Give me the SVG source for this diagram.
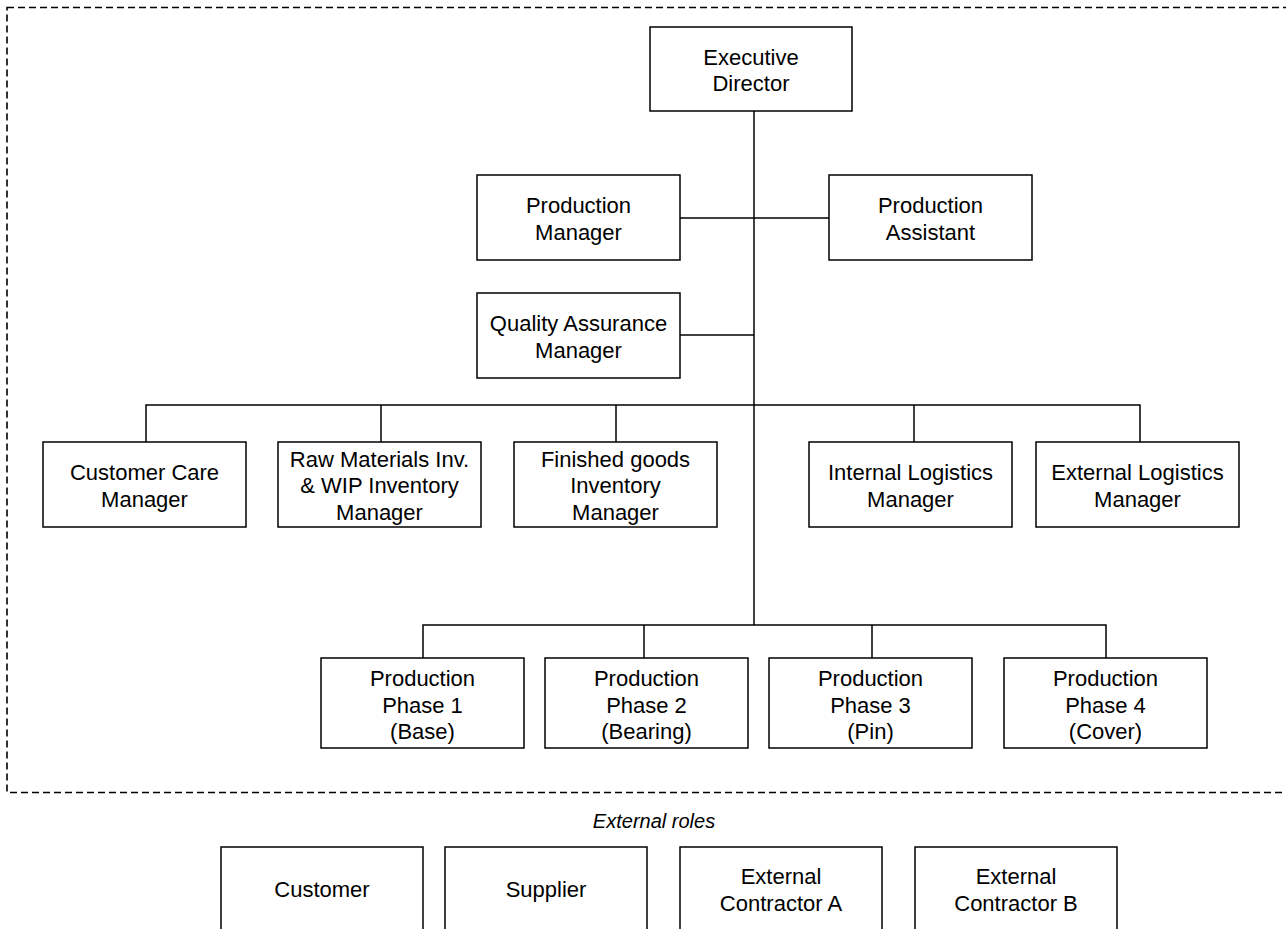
<svg xmlns="http://www.w3.org/2000/svg" width="1286" height="929" viewBox="0 0 1286 929">
  <style>
    .box { fill: #ffffff; stroke: #000000; stroke-width: 1.5; }
    .lbl { font-family: "Liberation Sans", Arial, Helvetica, sans-serif; font-size: 22px; fill: #000000; text-anchor: middle; }
    .note { font-family: "Liberation Sans", Arial, Helvetica, sans-serif; font-size: 20px; font-style: italic; fill: #000000; text-anchor: middle; }
    .wire { fill: none; stroke: #000000; stroke-width: 1.5; }
    .frame { fill: none; stroke: #000000; stroke-width: 1.6; stroke-dasharray: 7 4; }
  </style>
  <rect width="1286" height="929" fill="#ffffff"/>

  <!-- internal organisation boundary -->
  <rect class="frame" x="7" y="7.5" width="1290" height="785"/>

  <!-- reporting lines -->
  <g id="connectors">
    <path class="wire" d="M754 111 V625"/>
    <path class="wire" d="M680 218 H829"/>
    <path class="wire" d="M680 335 H754"/>
    <path class="wire" d="M146 442 V405 H1140 V442"/>
    <path class="wire" d="M381 405 V442"/>
    <path class="wire" d="M616 405 V442"/>
    <path class="wire" d="M914 405 V442"/>
    <path class="wire" d="M423 658 V625 H1106 V658"/>
    <path class="wire" d="M644 625 V658"/>
    <path class="wire" d="M872 625 V658"/>
  </g>

  <g id="executive-director">
    <rect class="box" x="650" y="27" width="202" height="84"/>
    <text class="lbl" x="751" y="64.5">Executive</text>
    <text class="lbl" x="751" y="91">Director</text>
  </g>
  <g id="production-manager">
    <rect class="box" x="477" y="175" width="203" height="85"/>
    <text class="lbl" x="578.5" y="213">Production</text>
    <text class="lbl" x="578.5" y="239.5">Manager</text>
  </g>
  <g id="production-assistant">
    <rect class="box" x="829" y="175" width="203" height="85"/>
    <text class="lbl" x="930.5" y="213">Production</text>
    <text class="lbl" x="930.5" y="239.5">Assistant</text>
  </g>
  <g id="quality-assurance-manager">
    <rect class="box" x="477" y="293" width="203" height="85"/>
    <text class="lbl" x="578.5" y="331">Quality Assurance</text>
    <text class="lbl" x="578.5" y="357.5">Manager</text>
  </g>

  <g id="customer-care-manager">
    <rect class="box" x="43" y="442" width="203" height="85"/>
    <text class="lbl" x="144.5" y="480">Customer Care</text>
    <text class="lbl" x="144.5" y="506.5">Manager</text>
  </g>
  <g id="raw-materials-manager">
    <rect class="box" x="278" y="442" width="203" height="85"/>
    <text class="lbl" x="379.5" y="466.5">Raw Materials Inv.</text>
    <text class="lbl" x="379.5" y="493">&amp; WIP Inventory</text>
    <text class="lbl" x="379.5" y="519.5">Manager</text>
  </g>
  <g id="finished-goods-manager">
    <rect class="box" x="514" y="442" width="203" height="85"/>
    <text class="lbl" x="615.5" y="466.5">Finished goods</text>
    <text class="lbl" x="615.5" y="493">Inventory</text>
    <text class="lbl" x="615.5" y="519.5">Manager</text>
  </g>
  <g id="internal-logistics-manager">
    <rect class="box" x="809" y="442" width="203" height="85"/>
    <text class="lbl" x="910.5" y="480">Internal Logistics</text>
    <text class="lbl" x="910.5" y="506.5">Manager</text>
  </g>
  <g id="external-logistics-manager">
    <rect class="box" x="1036" y="442" width="203" height="85"/>
    <text class="lbl" x="1137.5" y="480">External Logistics</text>
    <text class="lbl" x="1137.5" y="506.5">Manager</text>
  </g>

  <g id="production-phase-1">
    <rect class="box" x="321" y="658" width="203" height="90"/>
    <text class="lbl" x="422.5" y="686">Production</text>
    <text class="lbl" x="422.5" y="712.5">Phase 1</text>
    <text class="lbl" x="422.5" y="739">(Base)</text>
  </g>
  <g id="production-phase-2">
    <rect class="box" x="545" y="658" width="203" height="90"/>
    <text class="lbl" x="646.5" y="686">Production</text>
    <text class="lbl" x="646.5" y="712.5">Phase 2</text>
    <text class="lbl" x="646.5" y="739">(Bearing)</text>
  </g>
  <g id="production-phase-3">
    <rect class="box" x="769" y="658" width="203" height="90"/>
    <text class="lbl" x="870.5" y="686">Production</text>
    <text class="lbl" x="870.5" y="712.5">Phase 3</text>
    <text class="lbl" x="870.5" y="739">(Pin)</text>
  </g>
  <g id="production-phase-4">
    <rect class="box" x="1004" y="658" width="203" height="90"/>
    <text class="lbl" x="1105.5" y="686">Production</text>
    <text class="lbl" x="1105.5" y="712.5">Phase 4</text>
    <text class="lbl" x="1105.5" y="739">(Cover)</text>
  </g>

  <text id="external-roles-caption" class="note" x="654" y="828">External roles</text>

  <g id="customer">
    <rect class="box" x="221" y="847" width="202" height="100"/>
    <text class="lbl" x="322" y="897">Customer</text>
  </g>
  <g id="supplier">
    <rect class="box" x="445" y="847" width="202" height="100"/>
    <text class="lbl" x="546" y="897">Supplier</text>
  </g>
  <g id="external-contractor-a">
    <rect class="box" x="680" y="847" width="202" height="100"/>
    <text class="lbl" x="781" y="884">External</text>
    <text class="lbl" x="781" y="911">Contractor A</text>
  </g>
  <g id="external-contractor-b">
    <rect class="box" x="915" y="847" width="202" height="100"/>
    <text class="lbl" x="1016" y="884">External</text>
    <text class="lbl" x="1016" y="911">Contractor B</text>
  </g>
</svg>
